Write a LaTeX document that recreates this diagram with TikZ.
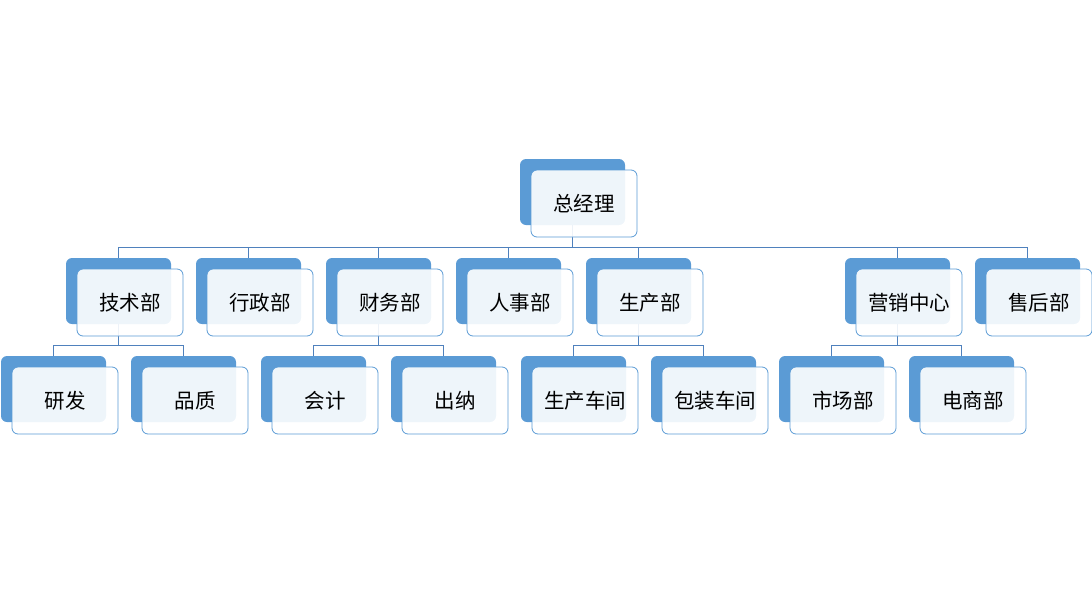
\documentclass[tikz,border=0pt]{standalone}
\usepackage{fontspec}
\newfontfamily\cjk{Noto Sans CJK SC}
\definecolor{boxblue}{HTML}{5B9BD5}
\definecolor{linkblue}{HTML}{4F81BD}
\tikzset{
  backbox/.style={draw=none, fill=boxblue, rounded corners=6pt, minimum width=105pt, minimum height=66pt, inner sep=0pt, outer sep=0pt},
  frontbox/.style={draw=boxblue, line width=0.8pt, fill=white, fill opacity=0.9, text opacity=1, rounded corners=6pt, minimum width=106pt, minimum height=67pt, inner sep=0pt, outer sep=0pt, font=\cjk\fontsize{20.5}{24}\selectfont, text=black},
  link/.style={draw=linkblue, line width=0.8pt}
}
\begin{document}
\begin{tikzpicture}[x=1pt,y=-1pt]
\useasboundingbox (0,0) rectangle (1092,592);
% back boxes: name / left / top
\foreach \n/\x/\y in {zjl/520/159,
  jsb/66/258, xzb/196/258, cwb/326/258, rsb/456/258, scb/586/258, yxzx/845/258, shb/975/258,
  yf/1/356, pz/131/356, kj/261/356, cn/391/356, sccj/521/356, bzcj/651/356, scbu/779/356, dsb/909/356}
  \node[backbox] (\n) at (\x+52.5,\y+33) {};
% connectors
\foreach \p/\c in {zjl/jsb, zjl/xzb, zjl/cwb, zjl/rsb, zjl/scb, zjl/yxzx, zjl/shb,
  jsb/yf, jsb/pz, cwb/kj, cwb/cn, scb/sccj, scb/bzcj, yxzx/scbu, yxzx/dsb}
  \draw[link] (\c.north) -- ++(0,-11) -| (\p.south);
% front boxes
\foreach \n/\x/\y/\t in {zjl/520/159/总经理,
  jsb/66/258/技术部, xzb/196/258/行政部, cwb/326/258/财务部, rsb/456/258/人事部, scb/586/258/生产部, yxzx/845/258/营销中心, shb/975/258/售后部,
  yf/1/356/研发, pz/131/356/品质, kj/261/356/会计, cn/391/356/出纳, sccj/521/356/生产车间, bzcj/651/356/包装车间, scbu/779/356/市场部, dsb/909/356/电商部}
  \node[frontbox] (\n-f) at (\x+64,\y+44.5) {\t};
\end{tikzpicture}
\end{document}
